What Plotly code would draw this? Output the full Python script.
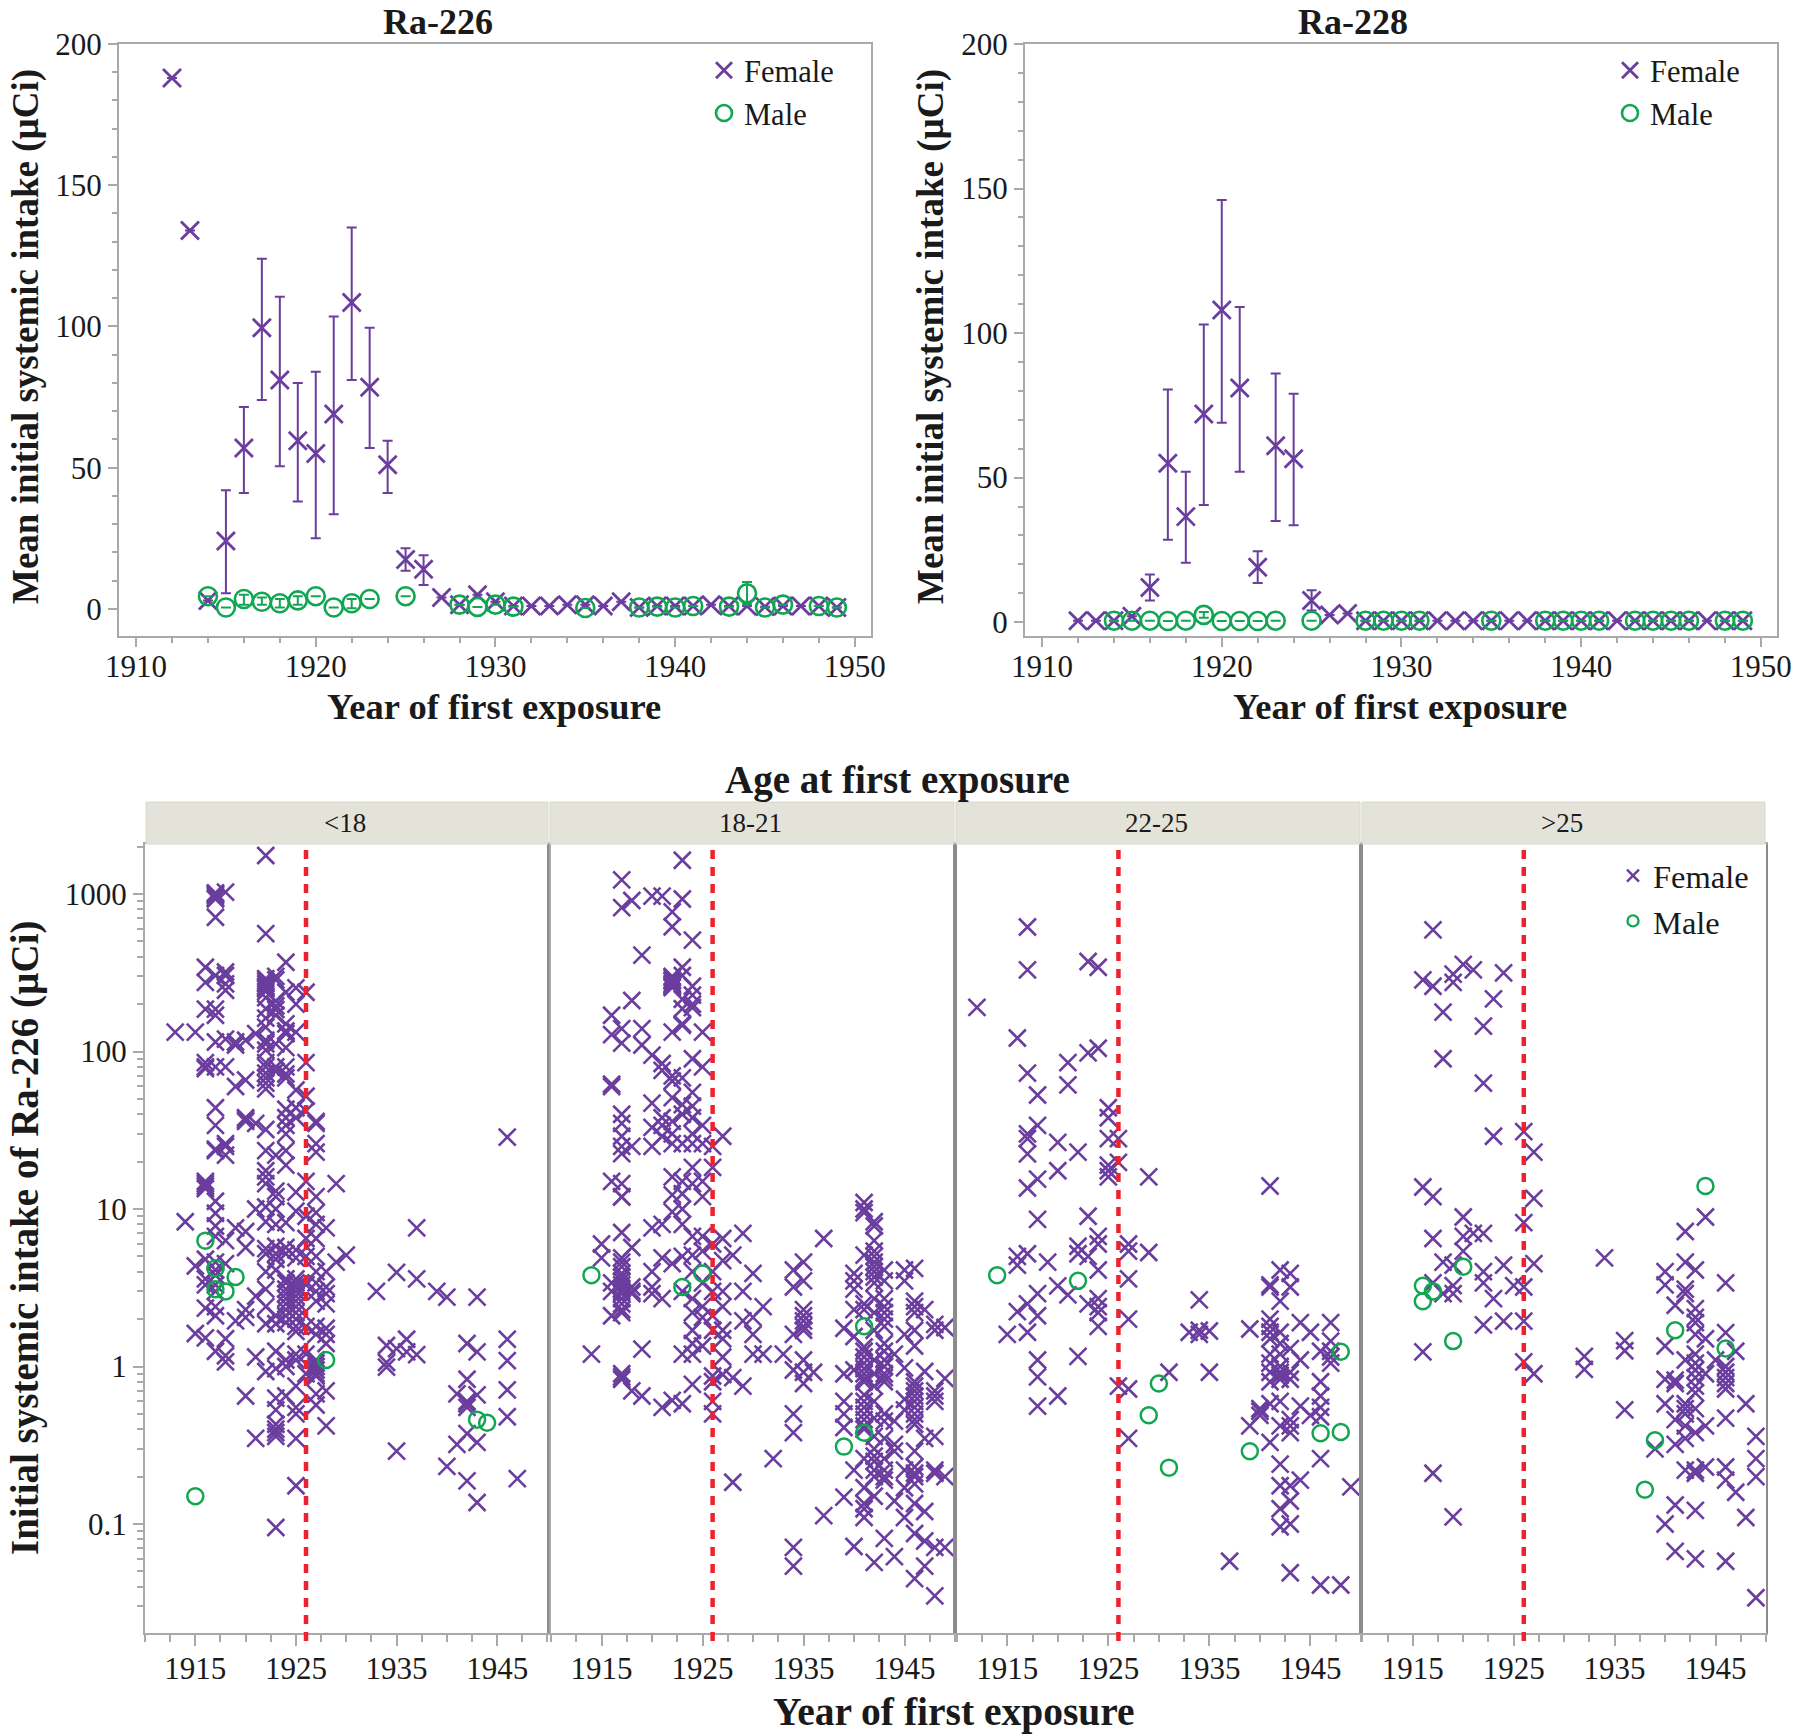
import plotly.graph_objects as go

# ---------- Top panels: mean initial systemic intake ----------
f_years = list(range(1912, 1950))
f226_mean = [188, 134, 3, 24, 57, 99.5, 81, 59.5, 55, 69, 108.5, 78.5, 51, 17.5, 14, 4, 1.5, 5, 2.5, 1, 1, 1, 1.5, 1.5, 1, 2.5, 0.5, 1, 1, 1, 1.5, 1, 1, 0.8, 1, 1, 1, 0.5]
f226_low = [None, None, None, 5.5, 41, 74, 50.5, 38, 25, 33.5, 81, 57, 41, 13.5, 8.5] + [None] * 23
f226_high = [None, None, None, 42, 71.5, 124, 110.5, 80, 84, 103.5, 135, 99.5, 59.5, 21.5, 19] + [None] * 23

m_years = [1914, 1915, 1916, 1917, 1918, 1919, 1920, 1921, 1922, 1923, 1925, 1928, 1929, 1930, 1931, 1935, 1938, 1939, 1940, 1941, 1943, 1944, 1945, 1946, 1948, 1949]
m226_mean = [4.5, 0.5, 3.5, 2.5, 2, 3, 4.5, 0.5, 2, 3.5, 4.5, 1.5, 0.7, 1.5, 0.8, 0.3, 0.5, 0.8, 0.5, 1, 0.8, 5.5, 0.5, 1.5, 1, 0.5]
m226_low = [None, None, 1.5, 1.5, 0.5, 1.5, None, None, 0.2, None, None, None, None, None, None, None, None, None, None, None, None, 1.5, None, None, None, None]
m226_high = [None, None, 5, 4, 3.5, 4.5, None, None, 3.5, None, None, None, None, None, None, None, None, None, None, None, None, 9.5, None, None, None, None]

f228_mean = [0.5, 0.5, 0.5, 2, 12, 55, 36.5, 72, 108, 81, 19, 61, 56.5, 7.5, 2.5, 3] + [0.5] * 22
f228_low = [None, None, None, None, 7.5, 28.5, 20.5, 40.5, 69, 52, 13.5, 35, 33.5, 4] + [None] * 24
f228_high = [None, None, None, None, 16.5, 80.5, 52, 103, 146, 109, 24.5, 86, 79, 11] + [None] * 24

m228_mean = [0.5, 0.5, 0.5, 0.4, 0.5, 2.5, 0.4, 0.4, 0.4, 0.5, 0.5, 0.5, 0.5, 0.5, 0.5, 0.5, 0.5, 0.5, 0.5, 0.5, 0.5, 0.5, 0.5, 0.5, 0.5, 0.5]
m228_low = [None] * 5 + [1.5] + [None] * 20
m228_high = [None] * 5 + [3.5] + [None] * 20

# ---------- Bottom panels: individual Ra-226 intake, by year of first exposure ----------
female_lt18 = {
    1913: [133], 1914: [8.3], 1915: [133, 4.35, 1.62],
    1916: [343, 275, 186, 85, 80, 78, 15, 14.5, 14, 13.5, 4.8, 3.6, 3.3, 2.35, 1.52],
    1917: [1017, 1000, 980, 950, 930, 713, 304, 186, 170, 115, 80, 44, 34, 24, 23.5, 11.2, 9.4, 7.8, 6.7, 4.6, 4.1, 3.8, 3.3, 3, 2.4, 2.1, 1.25],
    1918: [1030, 320, 304, 269, 245, 120, 80, 26, 25, 22, 6.3, 4.5, 1.5, 1.17, 1.07],
    1919: [115, 110, 60, 7.6, 1.95],
    1920: [118, 66, 38, 37, 36, 7.2, 5.7, 2.3, 2.05, 0.65],
    1921: [130, 35, 10, 2.8, 1.15, 0.35],
    1922: [1758, 561, 290, 280, 270, 260, 255, 250, 240, 220, 187, 163, 143, 118, 112, 102, 85, 80, 73, 68, 63, 58, 32, 23.5, 17.5, 16, 14.5, 10.3, 8.3, 5.6, 5.2, 4, 3.1, 2.4, 1.87, 0.93],
    1923: [300, 285, 210, 195, 185, 170, 112, 80, 75, 22, 13, 12, 10, 8, 5.8, 5.2, 4.8, 4.1, 2.1, 1.87, 1.25, 0.97, 0.63, 0.53, 0.43, 0.4, 0.38, 0.36, 0.095],
    1924: [369, 238, 150, 135, 130, 106, 80, 72, 68, 43, 38, 34, 30, 23.5, 19, 8.2, 5.7, 5.2, 3.6, 3.4, 3.1, 2.9, 2.7, 2.5, 2.3, 2.1, 1.9, 1.1, 1, 0.65],
    1925: [254, 200, 133, 57, 44, 38, 12.8, 9.7, 5.5, 4.9, 3.6, 3.4, 3.2, 3, 2.8, 2.6, 2.4, 2.2, 2, 1.8, 1.67, 1.2, 1.1, 0.75, 0.55, 0.5, 0.35, 0.175],
    1926: [238, 85, 52, 42, 15, 9, 6.5, 5, 3.3, 1.8, 1.2, 0.9],
    1927: [36, 35, 26, 23, 12, 9.5, 8, 6.5, 5, 4, 3.4, 3, 2.6, 1.8, 1.6, 1.1, 1.05, 1, 0.95, 0.9, 0.87, 0.67, 0.57],
    1928: [7.6, 4, 3.2, 2.9, 2.5, 1.75, 1.6, 1.4, 0.7, 0.42],
    1929: [14.5, 4.6], 1930: [5.1], 1933: [3.0], 1934: [1.36, 1.06, 0.99],
    1935: [3.96, 1.3, 0.29], 1936: [1.49, 1.24], 1937: [7.6, 3.6, 1.19], 1939: [3.0],
    1940: [2.76, 0.232], 1941: [0.67, 0.32],
    1942: [1.4, 0.83, 0.6, 0.58, 0.55, 0.375, 0.188],
    1943: [2.76, 1.24, 0.66, 0.33, 0.137],
    1946: [28.6, 1.49, 1.09, 0.71, 0.48], 1947: [0.194],
}
female_18_21 = {
    1914: [1.2],
    1915: [6.0, 4.9],
    1916: [170, 128, 62, 60, 15, 3.4, 3, 2.1],
    1917: [1230, 820, 140, 113, 40, 35, 29, 25, 22.5, 14.5, 12, 11.9, 7.1, 4.9, 4.6, 4.3, 3.9, 3.7, 3.5, 3.3, 3.1, 3, 2.9, 2.7, 2.5, 2.3, 2.2, 0.9, 0.86, 0.83],
    1918: [910, 211, 25, 5.7, 3.2, 3, 2.9, 0.7],
    1919: [410, 140, 110, 1.29, 0.65],
    1920: [970, 95, 47, 33, 25, 7.6, 4, 3.2, 2.9],
    1921: [970, 84, 76, 38, 34, 29, 8, 4.9, 2.7, 0.55],
    1922: [770, 620, 300, 295, 285, 280, 270, 265, 260, 255, 133, 70, 65, 51, 36, 30, 26, 16, 12.3, 9.6, 4.5, 0.61],
    1923: [1640, 930, 343, 304, 215, 187, 150, 147, 68, 46, 40, 26, 15, 12.5, 10, 8, 5, 3, 1.2, 0.58],
    1924: [510, 260, 228, 200, 190, 90, 55, 45, 38, 30, 26, 18.4, 14.5, 6.7, 5.1, 4, 2.7, 2.2, 1.7, 1.4, 1.2, 0.77],
    1925: [133, 80, 34, 26, 15, 12, 6.7, 5.4, 3.4, 2.4, 2.05, 1.35],
    1926: [25, 18.4, 6, 4, 3, 2.1, 1.7, 0.87, 0.8, 0.6, 0.5],
    1927: [29, 6.5, 4.7, 3, 2.4, 1.7, 1.5, 1.15, 0.89],
    1928: [5.1, 0.85, 0.184],
    1929: [7.0, 3, 1.95, 0.75],
    1930: [3.9, 2.05, 1.6, 1.2],
    1931: [2.4, 1.2], 1932: [0.26], 1933: [1.2],
    1934: [4.1, 3.2, 1.6, 0.95, 0.5, 0.38, 0.071, 0.054],
    1935: [4.6, 3.5, 2.3, 2.1, 1.95, 1.8, 1.7, 1.1, 0.92, 0.78],
    1936: [0.92], 1937: [6.5, 0.113],
    1939: [1.75, 0.9, 0.6, 0.5, 0.41, 0.148],
    1940: [3.9, 3.5, 3.1, 2.3, 1.55, 0.95, 0.22, 0.072],
    1941: [11, 10, 9.5, 5.1, 2.5, 2.3, 1.33, 1.25, 1.15, 1.05, 0.97, 0.9, 0.84, 0.8, 0.66, 0.6, 0.55, 0.5, 0.46, 0.42, 0.4, 0.26, 0.17, 0.135, 0.125, 0.11],
    1942: [8.3, 7.8, 6.3, 5.4, 5, 4.6, 4.3, 4, 3.7, 3.4, 2.7, 2.2, 1.7, 1.1, 0.9, 0.75, 0.6, 0.47, 0.36, 0.3, 0.27, 0.25, 0.22, 0.2, 0.15, 0.057],
    1943: [4.1, 3.5, 2.7, 2.4, 2.2, 2, 1.8, 1.4, 1.25, 1.1, 1, 0.9, 0.85, 0.8, 0.5, 0.45, 0.35, 0.26, 0.22, 0.2, 0.19, 0.081],
    1944: [1.2, 0.45, 0.32, 0.29, 0.14, 0.062],
    1945: [4.1, 3.5, 1.6, 0.98, 0.62, 0.53, 0.22, 0.17, 0.11],
    1946: [4.2, 2.6, 2.4, 2.2, 1.7, 1.35, 0.8, 0.75, 0.7, 0.65, 0.6, 0.55, 0.5, 0.46, 0.43, 0.29, 0.23, 0.21, 0.2, 0.18, 0.135, 0.087, 0.045],
    1947: [2.3, 0.93, 0.35, 0.12, 0.078, 0.054],
    1948: [1.85, 1.7, 0.7, 0.65, 0.6, 0.36, 0.22, 0.21, 0.071, 0.035],
    1949: [1.77, 0.84, 0.2, 0.071],
}
female_22_25 = {
    1912: [191], 1915: [1.6],
    1916: [122, 5, 4.4, 2.23], 1919: [4.6],
    1917: [618, 330, 73, 30, 28, 22.4, 13.6, 5.2, 2.5, 1.65],
    1918: [53, 34, 15.5, 8.6, 2.9, 2.1, 1.1, 0.86, 0.56],
    1920: [26.5, 17.5, 3.25, 0.65],
    1921: [85, 61.5, 2.85],
    1922: [23, 5.8, 5.2, 1.16],
    1923: [373, 98, 9, 5, 2.5],
    1924: [343, 105, 6.7, 6, 4.1, 2.7, 2.4, 2.2, 1.8],
    1925: [44, 38, 28, 19, 17.5, 16],
    1926: [28, 19.8, 0.75],
    1927: [6, 5.4, 3.6, 2, 0.72, 0.35],
    1929: [16, 5.3], 1931: [0.92], 1933: [1.65], 1934: [2.65, 1.7, 1.6], 1935: [1.68, 0.92],
    1937: [0.058], 1939: [1.73, 0.42],
    1940: [0.54, 0.52, 0.49],
    1941: [14, 3.3, 3.2, 2.0, 1.8, 1.65, 1.5, 1.2, 1.05, 0.92, 0.8, 0.58, 0.33],
    1942: [4.1, 2.6, 1.65, 1.4, 1.2, 1.0, 0.92, 0.88, 0.83, 0.6, 0.42, 0.24, 0.175, 0.125, 0.096],
    1943: [3.9, 3.2, 1.3, 0.92, 0.83, 0.46, 0.42, 0.38, 0.175, 0.14, 0.1, 0.049],
    1944: [1.9, 1.1, 0.56, 0.19], 1945: [1.65, 0.49],
    1946: [1.25, 0.8, 0.65, 0.55, 0.48, 0.26, 0.041],
    1947: [1.9, 1.45, 1.25, 1.15, 1.05], 1948: [0.041], 1949: [0.172],
}
female_gt25 = {
    1916: [285, 13.8, 1.24],
    1917: [593, 260, 12, 6.5, 3.4, 0.21],
    1918: [178, 90, 4.6, 2.9],
    1919: [310, 275, 4.4, 3.26, 2.9, 0.111],
    1920: [358, 8.9, 6.7, 5.4],
    1921: [330, 7],
    1922: [145, 63, 7, 4, 3.4, 1.84],
    1923: [216, 29, 2.7],
    1924: [316, 4.4, 1.94], 1925: [3.26],
    1926: [31, 8.2, 3.2, 1.94, 1.07],
    1927: [23, 11.7, 4.5, 0.9],
    1932: [1.16, 0.96], 1934: [4.9], 1936: [1.46, 1.26, 0.53], 1939: [0.3],
    1940: [4, 3.3, 1.35, 0.83, 0.58, 0.1],
    1941: [2.45, 0.82, 0.78, 0.46, 0.32, 0.132, 0.067],
    1942: [7.2, 4.6, 3.1, 2.9, 1.1, 0.58, 0.54, 0.5, 0.42, 0.35, 0.22],
    1943: [4.1, 2.33, 2.05, 1.9, 1.6, 1.2, 1.05, 0.95, 0.85, 0.75, 0.68, 0.54, 0.38, 0.22, 0.21, 0.122, 0.06],
    1944: [8.9, 1.5, 0.9, 0.42, 0.23], 1945: [1.1],
    1946: [3.4, 1.64, 1.0, 0.92, 0.85, 0.78, 0.72, 0.47, 0.23, 0.19, 0.058],
    1947: [1.25, 0.159],
    1948: [0.58, 0.11],
    1949: [0.36, 0.26, 0.2, 0.034],
}
male_lt18 = {1915: [0.15], 1916: [6.3], 1917: [4.2, 3.1], 1918: [3.0], 1919: [3.7], 1928: [1.1], 1943: [0.46], 1944: [0.44]}
male_18_21 = {1914: [3.8], 1923: [3.2], 1925: [3.9], 1939: [0.31], 1941: [1.8, 0.38]}
male_22_25 = {1914: [3.8], 1922: [3.5], 1929: [0.49], 1930: [0.78], 1931: [0.228], 1939: [0.29], 1946: [0.377], 1948: [1.24, 0.384]}
male_gt25 = {1916: [3.26, 2.6], 1917: [3.0], 1919: [1.45], 1920: [4.3], 1938: [0.165], 1939: [0.34], 1941: [1.7], 1944: [14], 1946: [1.3]}

age_groups = ["<18", "18-21", "22-25", ">25"]
female_panels = [female_lt18, female_18_21, female_22_25, female_gt25]
male_panels = [male_lt18, male_18_21, male_22_25, male_gt25]
change_year = 1926
top_titles = ["Ra-226", "Ra-228"]
log_tick_vals = [0.1, 1, 10, 100, 1000]
log_tick_text = ["0.1", "1", "10", "100", "1000"]
year_tick_vals = [1915, 1925, 1935, 1945]

# ---------- Styling ----------
W, H = 1800, 1735
PURPLE = "#6a3d9e"
GREEN = "#11a652"
RED = "#f0212e"
FRAME = "#a9a9a9"
SERIF = "Liberation Serif"
px = lambda v: v / W
py = lambda v: 1 - v / H


def expand(d):
    xs, ys = [], []
    for year, vals in d.items():
        for v in vals:
            xs.append(year)
            ys.append(v)
    return xs, ys


def errs(mean, bound, sign):
    return [0 if b is None else sign * (b - m) for m, b in zip(mean, bound)]


fig = go.Figure()


def x_marker(size, lw):
    return dict(symbol="x-thin-open", size=size, color=PURPLE, line=dict(color=PURPLE, width=lw))


def o_marker(size, lw):
    return dict(symbol="circle-open", size=size, color=GREEN, line=dict(color=GREEN, width=lw))


def err(mean, low, high, color):
    return dict(type="data", symmetric=False, array=errs(mean, high, 1), arrayminus=errs(mean, low, -1),
                color=color, thickness=2, width=5)


# Top panels
top = [
    (f226_mean, f226_low, f226_high, m226_mean, m226_low, m226_high, "x", "y", "legend"),
    (f228_mean, f228_low, f228_high, m228_mean, m228_low, m228_high, "x2", "y2", "legend2"),
]
for fm, fl, fh, mm, ml, mh, xa, ya, leg in top:
    fig.add_trace(go.Scatter(x=f_years, y=fm, mode="markers", name="Female", xaxis=xa, yaxis=ya, legend=leg,
                             marker=x_marker(18, 2.8), error_y=err(fm, fl, fh, PURPLE), cliponaxis=False))
    fig.add_trace(go.Scatter(x=m_years, y=mm, mode="markers", name="Male", xaxis=xa, yaxis=ya, legend=leg,
                             marker=o_marker(18, 2.6), error_y=err(mm, ml, mh, GREEN), cliponaxis=False))

# Bottom panels
for i, (fd, md) in enumerate(zip(female_panels, male_panels)):
    xa, ya = f"x{i + 3}", f"y{i + 3}"
    fx, fy = expand(fd)
    mx, my = expand(md)
    fig.add_trace(go.Scatter(x=fx, y=fy, mode="markers", name="Female", xaxis=xa, yaxis=ya, showlegend=False,
                             marker=x_marker(17, 2.6), cliponaxis=False))
    fig.add_trace(go.Scatter(x=mx, y=my, mode="markers", name="Male", xaxis=xa, yaxis=ya, showlegend=False,
                             marker=o_marker(16, 2.5), cliponaxis=False))

# Legend-only entries for the bottom row (smaller symbols)
fig.add_trace(go.Scatter(x=[None], y=[None], mode="markers", name="Female", xaxis="x6", yaxis="y6",
                         legend="legend3", marker=x_marker(12, 2.4)))
fig.add_trace(go.Scatter(x=[None], y=[None], mode="markers", name="Male", xaxis="x6", yaxis="y6",
                         legend="legend3", marker=o_marker(11, 2.4)))

tick_font = dict(family=SERIF, size=31, color="#1a1a1a")
layout = dict(
    width=W, height=H, autosize=False,
    margin=dict(l=0, r=0, t=0, b=0, autoexpand=False),
    paper_bgcolor="white", plot_bgcolor="white",
    font=dict(family=SERIF, color="#1a1a1a"),
    annotations=[], shapes=[],
)


def ax(**kw):
    base = dict(showline=True, linecolor=FRAME, linewidth=2, mirror=True, showgrid=False, zeroline=False,
                ticks="outside", tickcolor=FRAME, tickwidth=2, tickfont=tick_font)
    base.update(kw)
    return base


# top axes
top_geom = [(119, 871, [1909.05, 1950.9], [-9.6, 200]), (1025, 1777, [1909.05, 1950.9], [-4.8, 200])]
for j, (l, r, xr, yr) in enumerate(top_geom):
    s = "" if j == 0 else "2"
    layout["xaxis" + s] = ax(domain=[px(l), px(r)], range=xr, dtick=10, tick0=1910, ticklen=9, ticklabelstandoff=-7,
                             minor=dict(dtick=2, tick0=1910, ticks="outside", ticklen=5, tickcolor=FRAME, tickwidth=1.5),
                             anchor="y" + s)
    layout["yaxis" + s] = ax(domain=[py(636), py(44)], range=yr, dtick=50, tick0=0, ticklen=9,
                             minor=dict(dtick=10, tick0=0, ticks="outside", ticklen=5, tickcolor=FRAME, tickwidth=1.5),
                             anchor="x" + s)

# bottom axes
panel_geom = [(145, 549, [1910, 1950.15]), (549, 955, [1909.8, 1950]), (955, 1361, [1909.83, 1950]), (1361, 1766, [1909.87, 1950])]
minor_log = [m * 10 ** k for k in range(-2, 4) for m in range(2, 10)]
for i, (l, r, xr) in enumerate(panel_geom):
    n = str(i + 3)
    layout["xaxis" + n] = ax(domain=[px(l), px(r)], range=xr, tickvals=year_tick_vals,
                             ticktext=[str(v) for v in year_tick_vals], ticklen=11, ticklabelstandoff=-4,
                             minor=dict(dtick=2.5, tick0=1910, ticks="outside", ticklen=7, tickcolor=FRAME, tickwidth=1.5),
                             anchor="y" + n)
    yk = dict(domain=[py(1632.5), py(844)], type="log", range=[-1.689, 3.318], anchor="x" + n, ticklen=0,
              linecolor="#8c8c8c" if i else FRAME)
    if i == 0:
        yk.update(tickvals=log_tick_vals, ticktext=log_tick_text, ticklen=10,
                  minor=dict(tickvals=minor_log, ticks="outside", ticklen=6, tickcolor=FRAME, tickwidth=1.5))
    else:
        yk.update(tickvals=[], ticks="")
    layout["yaxis" + n] = ax(**yk)
    # strip
    layout["shapes"].append(dict(type="rect", xref="paper", yref="paper", x0=px(l + 1), x1=px(r - 1), y0=py(844), y1=py(802),
                                 fillcolor="#e3e3d9", line=dict(color="#d8d8cc", width=1), layer="above"))
    layout["annotations"].append(dict(text=age_groups[i].replace("<", "&lt;").replace(">", "&gt;"),
                                      xref="paper", yref="paper", x=px((l + r) / 2 - 2), y=py(823), showarrow=False,
                                      font=dict(family=SERIF, size=27, color="#1a1a1a"), xanchor="center", yanchor="middle"))
    # dashed reference year
    layout["shapes"].append(dict(type="line", xref="x" + n, yref="paper", x0=change_year, x1=change_year,
                                 y0=py(850), y1=py(1642), line=dict(color=RED, width=4.5, dash="9px,8px"), layer="above"))


def text(s, x, y, size, angle=0):
    layout["annotations"].append(dict(text=f"<b>{s}</b>", xref="paper", yref="paper", x=px(x), y=py(y), showarrow=False,
                                      textangle=angle, xanchor="center", yanchor="middle",
                                      font=dict(family=SERIF, size=size, color="#1a1a1a")))


text(top_titles[0], 438, 22, 36)
text(top_titles[1], 1353, 22, 36)
text("Year of first exposure", 494, 706, 36.5)
text("Year of first exposure", 1400, 706, 36.5)
text("Mean initial systemic intake (µCi)", 26, 337, 37, angle=-90)
text("Mean initial systemic intake (µCi)", 931, 337, 37, angle=-90)
text("Age at first exposure", 897, 780, 39)
text("Year of first exposure", 954, 1712, 39.5)
text("Initial systemic intake of Ra-226 (µCi)", 25, 1238, 39, angle=-90)


def legend(x, y, size):
    return dict(x=px(x), y=py(y), xanchor="left", yanchor="top", bgcolor="rgba(0,0,0,0)",
                font=dict(family=SERIF, size=size, color="#1a1a1a"), itemsizing="trace",
                tracegroupgap=0, itemwidth=30)


layout["legend"] = legend(704, 44, 30.5)
layout["legend2"] = legend(1610, 44, 30.5)
layout["legend3"] = legend(1613, 848, 32.5)
layout["showlegend"] = True

fig.update_layout(**layout)
fig.write_html("out.html", config=dict(displayModeBar=False),
               post_script="document.body.style.margin='0';document.body.style.overflow='hidden';")
